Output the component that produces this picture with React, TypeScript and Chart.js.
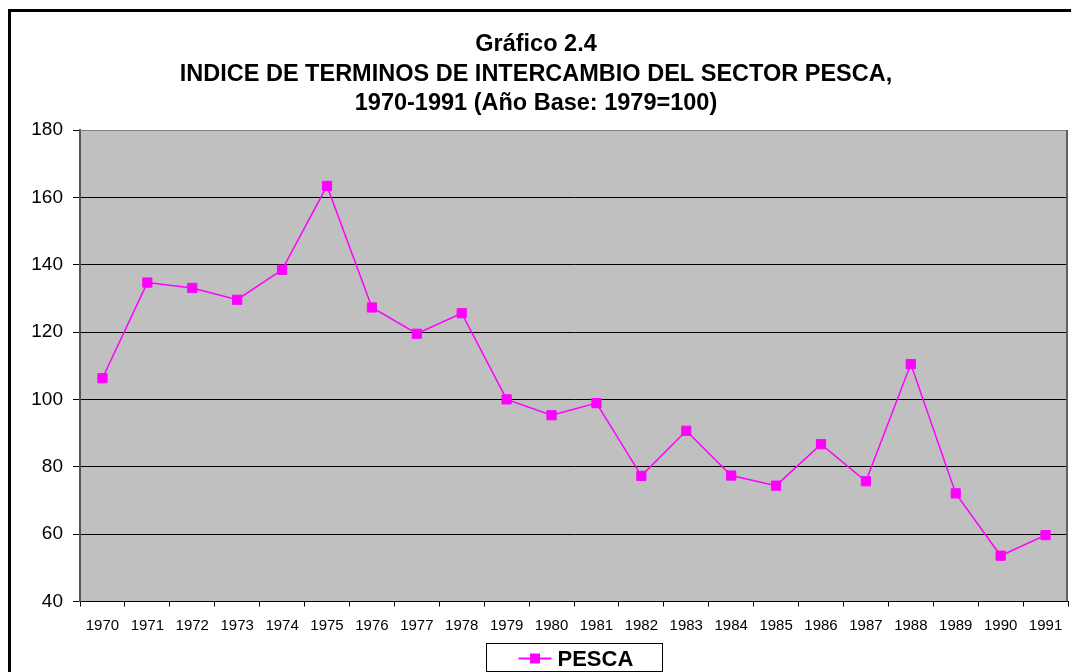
import React, { useEffect, useRef } from "react";
import { Chart, registerables } from "chart.js";

Chart.register(...registerables);

const categories = ["1970", "1971", "1972", "1973", "1974", "1975", "1976", "1977", "1978", "1979", "1980", "1981", "1982", "1983", "1984", "1985", "1986", "1987", "1988", "1989", "1990", "1991"];
const pescaValues = [106.3, 134.7, 133.1, 129.6, 138.5, 163.4, 127.3, 119.5, 125.6, 100.0, 95.3, 98.9, 77.3, 90.7, 77.4, 74.4, 86.7, 75.7, 110.5, 72.1, 53.6, 59.7];
const titleLines = ["Gráfico 2.4", "INDICE DE TERMINOS DE INTERCAMBIO DEL SECTOR PESCA,", "1970-1991 (Año Base: 1979=100)"];
const seriesName = "PESCA";
const yMin = 40;
const yMax = 180;
const yStep = 20;

const FONT = '"Liberation Sans", Arial, sans-serif';
const MAGENTA = "#FF00FF";

const decorPlugin = {
  id: "decor",
  beforeDraw(chart: any) {
    const { ctx, chartArea } = chart;
    ctx.save();
    ctx.fillStyle = "#FFFFFF";
    ctx.fillRect(0, 0, chart.width, chart.height);
    ctx.fillStyle = "#C0C0C0";
    ctx.fillRect(chartArea.left, chartArea.top, chartArea.right - chartArea.left, chartArea.bottom - chartArea.top);
    ctx.restore();
  },
  afterDraw(chart: any) {
    const { ctx, chartArea } = chart;
    ctx.save();
    // plot area top / right border
    ctx.strokeStyle = "#808080";
    ctx.lineWidth = 1;
    ctx.beginPath();
    ctx.moveTo(chartArea.left, chartArea.top + 0.5);
    ctx.lineTo(chartArea.right, chartArea.top + 0.5);
    ctx.stroke();
    ctx.strokeStyle = "#606060";
    ctx.lineWidth = 2;
    ctx.beginPath();
    ctx.moveTo(chartArea.right - 1, chartArea.top);
    ctx.lineTo(chartArea.right - 1, chartArea.bottom);
    ctx.stroke();

    // outer frame
    ctx.strokeStyle = "#000000";
    ctx.lineWidth = 3;
    ctx.strokeRect(9.5, 10.5, 1200, 800);

    // title
    ctx.fillStyle = "#000000";
    ctx.font = "bold 23.5px " + FONT;
    ctx.textAlign = "center";
    ctx.textBaseline = "middle";
    const ys = [44.5, 74.5, 104];
    titleLines.forEach((t, i) => ctx.fillText(t, 536, ys[i]));

    // legend
    const cx = (chartArea.left + chartArea.right) / 2;
    const bw = 176;
    const bx = Math.round(cx - bw / 2) + 0.5;
    ctx.strokeStyle = "#000000";
    ctx.lineWidth = 1;
    ctx.fillStyle = "#FFFFFF";
    ctx.fillRect(bx, 643.5, bw, 28);
    ctx.strokeRect(bx, 643.5, bw, 28);
    const ly = 658.5;
    ctx.strokeStyle = MAGENTA;
    ctx.lineWidth = 2;
    ctx.beginPath();
    ctx.moveTo(bx + 32, ly);
    ctx.lineTo(bx + 65, ly);
    ctx.stroke();
    ctx.fillStyle = MAGENTA;
    ctx.fillRect(bx + 43.5, ly - 5, 10, 10);
    ctx.fillStyle = "#000000";
    ctx.font = "bold 22px " + FONT;
    ctx.textAlign = "left";
    ctx.textBaseline = "middle";
    ctx.fillText(seriesName, bx + 71, ly + 1);
    ctx.restore();
  },
};

export default function App() {
  const canvasRef = useRef<HTMLCanvasElement | null>(null);

  useEffect(() => {
    if (!canvasRef.current) return;
    const chart = new Chart(canvasRef.current, {
      type: "line",
      data: {
        labels: categories,
        datasets: [
          {
            label: seriesName,
            data: pescaValues,
            borderColor: MAGENTA,
            backgroundColor: MAGENTA,
            borderWidth: 1.5,
            pointStyle: "rect",
            pointRadius: 6.5,
            pointBorderWidth: 1,
            pointBackgroundColor: MAGENTA,
            pointBorderColor: MAGENTA,
            tension: 0,
          },
        ],
      },
      options: {
        responsive: false,
        devicePixelRatio: 1,
        animation: false,
        layout: { autoPadding: false, padding: { left: 0, right: 3, top: 130, bottom: 0 } },
        plugins: {
          legend: { display: false },
          title: { display: false },
          tooltip: { enabled: false },
        },
        scales: {
          x: {
            type: "category",
            offset: true,
            grid: {
              display: true,
              drawOnChartArea: false,
              drawTicks: true,
              tickLength: 5,
              color: "#000000",
              offset: true,
            },
            border: { display: true, color: "#000000", width: 1 },
            ticks: {
              color: "#000000",
              font: { family: FONT, size: 15 },
              padding: 10,
              maxRotation: 0,
              minRotation: 0,
              autoSkip: false,
            },
            afterFit(scale: any) {
              scale.height = 70.5;
              scale.paddingLeft = 0;
              scale.paddingRight = 0;
            },
          },
          y: {
            min: yMin,
            max: yMax,
            grid: {
              color: "#000000",
              lineWidth: 1,
              drawTicks: true,
              tickLength: 7,
              tickColor: "#000000",
            },
            border: { display: true, color: "#555555", width: 2 },
            ticks: {
              stepSize: yStep,
              color: "#000000",
              font: { family: FONT, size: 19 },
              padding: 10,
            },
            afterFit(scale: any) {
              scale.width = 80;
              scale.paddingTop = 0;
              scale.paddingBottom = 0;
            },
          },
        },
      },
      plugins: [decorPlugin],
    });
    return () => chart.destroy();
  }, []);

  return (
    <div style={{ position: "fixed", left: 0, top: 0, width: 1071, height: 672, overflow: "hidden", background: "#fff" }}>
      <canvas ref={canvasRef} width={1071} height={672} style={{ display: "block", width: 1071, height: 672 }} />
    </div>
  );
}
